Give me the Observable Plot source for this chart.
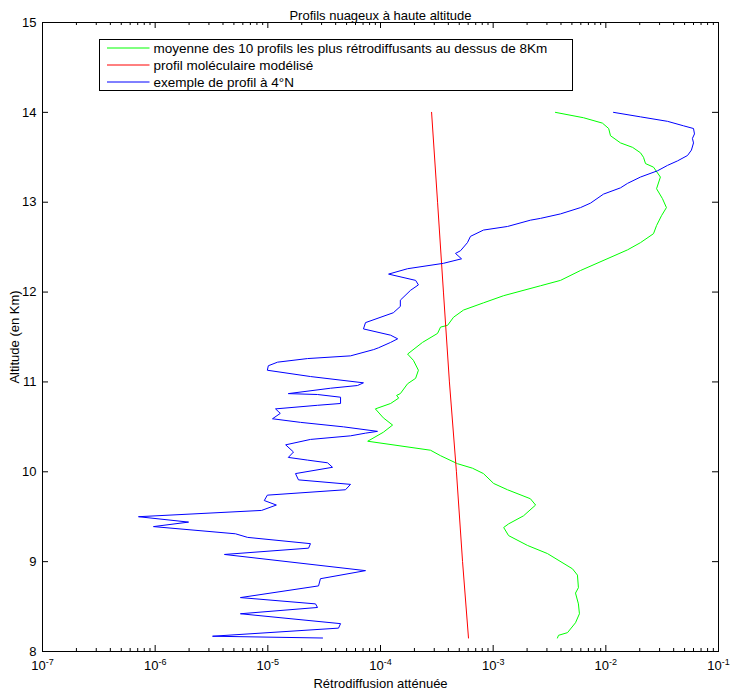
<!DOCTYPE html>
<html>
<head>
<meta charset="utf-8">
<script src="https://cdn.jsdelivr.net/npm/d3@7"></script>
<script src="https://cdn.jsdelivr.net/npm/@observablehq/plot@0.6"></script>
<style>
  html, body { margin: 0; padding: 0; background: #fff; }
  svg { display: block; }
</style>
</head>
<body>
<div id="chart"></div>
<script>
// ---------- texts ----------
const title = "Profils nuageux à haute altitude";
const xLabel = "Rétrodiffusion atténuée";
const yLabel = "Altitude (en Km)";
const seriesNames = [
  "moyenne des 10 profils les plus rétrodiffusants au dessus de 8Km",
  "profil moléculaire modélisé",
  "exemple de profil à 4°N"
];
const seriesColors = ["#00ff00", "#ff0000", "#0000ff"];

// ---------- ticks ----------
const xTicks = [1e-7, 1e-6, 1e-5, 1e-4, 1e-3, 1e-2, 1e-1];
const yTicks = [8, 9, 10, 11, 12, 13, 14, 15];

// ---------- green : mean of the 10 most backscattering profiles ----------
const greenAlt = [14.0, 13.94, 13.88, 13.82, 13.74, 13.66, 13.61, 13.55, 13.50, 13.43,
  13.39, 13.28, 13.15, 13.04, 12.94, 12.85, 12.74, 12.65, 12.55, 12.47,
  12.24, 12.13, 12.07, 11.96, 11.88, 11.80, 11.72, 11.63, 11.61, 11.54,
  11.44, 11.31, 11.24, 11.13, 11.04, 10.98, 10.87, 10.85, 10.82, 10.76,
  10.70, 10.60, 10.52, 10.44, 10.34, 10.24, 10.18, 10.09, 10.04, 9.98,
  9.87, 9.80, 9.70, 9.63, 9.51, 9.42, 9.38, 9.29, 9.18, 9.09,
  8.92, 8.85, 8.71, 8.65, 8.53, 8.42, 8.32, 8.21, 8.18, 8.15];
const greenVal = [3.57e-3, 6.34e-3, 9.33e-3, 1.06e-2, 1.10e-2, 1.35e-2, 1.73e-2, 2.03e-2, 2.16e-2, 2.25e-2,
  2.65e-2, 3.05e-2, 2.82e-2, 3.18e-2, 3.45e-2, 3.12e-2, 2.82e-2, 2.65e-2, 2.03e-2, 1.56e-2,
  5.96e-3, 3.96e-3, 2.63e-3, 1.24e-3, 8.2e-4, 5.46e-4, 4.45e-4, 3.94e-4, 3.41e-4, 3.21e-4,
  2.36e-4, 1.74e-4, 1.96e-4, 2.17e-4, 2.05e-4, 1.74e-4, 1.50e-4, 1.39e-4, 1.45e-4, 1.23e-4,
  9.0e-5, 1.06e-4, 1.28e-4, 1.06e-4, 7.7e-5, 2.78e-4, 3.40e-4, 4.82e-4, 6.55e-4, 8.2e-4,
  1.01e-3, 1.34e-3, 2.14e-3, 2.38e-3, 1.86e-3, 1.37e-3, 1.24e-3, 1.37e-3, 2.02e-3, 3.03e-3,
  5.06e-3, 5.60e-3, 5.71e-3, 5.38e-3, 5.71e-3, 5.83e-3, 5.38e-3, 4.57e-3, 3.80e-3, 3.72e-3];

// ---------- red : modelled molecular profile ----------
const redAlt = [14.0, 13.0, 12.0, 11.0, 10.0, 9.0, 8.15];
const redVal = [2.84e-4, 3.21e-4, 3.62e-4, 4.09e-4, 4.72e-4, 5.35e-4, 6.04e-4];

// ---------- blue : example profile at 4°N ----------
const blueAlt = [14.0, 13.95, 13.90, 13.85, 13.82, 13.76, 13.71, 13.66, 13.58, 13.52,
  13.46, 13.41, 13.35, 13.28, 13.21, 13.16, 13.09, 12.99, 12.94, 12.87,
  12.82, 12.80, 12.73, 12.69, 12.62, 12.55, 12.46, 12.43, 12.37, 12.32,
  12.26, 12.20, 12.13, 12.08, 12.02, 11.91, 11.84, 11.77, 11.66, 11.59,
  11.52, 11.48, 11.44, 11.38, 11.36, 11.29, 11.26, 11.22, 11.18, 11.13,
  11.06, 10.99, 10.96, 10.93, 10.87, 10.86, 10.83, 10.76, 10.74, 10.70,
  10.65, 10.59, 10.55, 10.50, 10.45, 10.43, 10.40, 10.36, 10.30, 10.22,
  10.16, 10.13, 10.10, 10.05, 9.98, 9.91, 9.86, 9.80, 9.74, 9.68,
  9.63, 9.57, 9.50, 9.44, 9.39, 9.31, 9.27, 9.20, 9.15, 9.08,
  8.90, 8.81, 8.73, 8.60, 8.53, 8.49, 8.42, 8.31, 8.26, 8.17, 8.15];
const blueVal = [1.17e-2, 2.03e-2, 3.53e-2, 4.90e-2, 6.00e-2, 6.12e-2, 5.87e-2, 6.00e-2, 5.75e-2, 5.31e-2,
  4.33e-2, 3.53e-2, 2.88e-2, 2.03e-2, 1.56e-2, 1.35e-2, 9.53e-3, 7.31e-3, 5.96e-3, 3.96e-3,
  2.63e-3, 2.14e-3, 1.34e-3, 8.2e-4, 6.29e-4, 5.91e-4, 5.13e-4, 4.63e-4, 5.24e-4, 3.62e-4,
  1.74e-4, 1.18e-4, 2.05e-4, 2.17e-4, 1.85e-4, 1.50e-4, 1.50e-4, 1.30e-4, 7.36e-5, 7.06e-5,
  1.23e-4, 1.42e-4, 1.23e-4, 9.6e-5, 8.7e-5, 5.42e-5, 2.25e-5, 1.22e-5, 1.01e-5, 9.9e-6,
  2.39e-5, 7.06e-5, 6.25e-5, 3.60e-5, 1.52e-5, 2.76e-5, 4.42e-5, 4.42e-5, 2.76e-5, 1.17e-5,
  1.29e-5, 1.10e-5, 1.95e-5, 4.70e-5, 9.4e-5, 7.36e-5, 5.42e-5, 2.39e-5, 1.44e-5, 1.69e-5,
  1.52e-5, 2.25e-5, 3.39e-5, 3.75e-5, 1.76e-5, 1.87e-5, 5.42e-5, 4.89e-5, 9.9e-6, 9.3e-6,
  1.19e-5, 8.8e-6, 7.11e-7, 1.98e-6, 9.66e-7, 5.16e-6, 6.61e-6, 2.39e-5, 2.30e-5, 4.12e-6,
  7.36e-5, 2.93e-5, 2.82e-5, 5.71e-6, 2.65e-5, 2.76e-5, 5.71e-6, 4.42e-5, 4.24e-5, 3.23e-6, 3.06e-5];

// ---------- build rows ----------
const toRows = (name, alts, vals) => alts.map((a, i) => ({series: name, alt: a, value: vals[i]}));
const greenRows = toRows(seriesNames[0], greenAlt, greenVal);
const redRows = toRows(seriesNames[1], redAlt, redVal);
const blueRows = toRows(seriesNames[2], blueAlt, blueVal);

// ---------- layout ----------
const W = 732, H = 690;
const mL = 42, mR = 14, mT = 22, mB = 39;
const innerW = W - mL - mR;
const innerH = H - mT - mB;
const font = "'Liberation Sans', Arial, Helvetica, sans-serif";

// minor log ticks (2..9 × each decade)
const minorX = [];
for (let e = -7; e < -1; e++) for (let m = 2; m <= 9; m++) minorX.push(m * Math.pow(10, e));

function legendMark() {
  const g = d3.create("svg:g").attr("font-family", font).attr("font-size", 13.5)
    .attr("text-anchor", "start");
  const x0 = mL + 57.5, y0 = mT + 17.5;
  g.append("rect").attr("x", x0).attr("y", y0).attr("width", 473).attr("height", 51)
    .attr("fill", "#fff").attr("stroke", "#000");
  seriesNames.forEach((name, i) => {
    const y = y0 + 8.5 + i * 17;
    g.append("line").attr("x1", x0 + 7.5).attr("x2", x0 + 50).attr("y1", y).attr("y2", y)
      .attr("stroke", seriesColors[i]).attr("stroke-width", 1);
    g.append("text").attr("x", x0 + 54).attr("y", y).attr("dy", "0.35em")
      .attr("text-anchor", "start").attr("fill", "#000").text(name);
  });
  return g.node();
}

const chart = Plot.plot({
  width: W, height: H,
  marginLeft: mL, marginRight: mR, marginTop: mT, marginBottom: mB,
  style: {fontFamily: font, fontSize: "13px", color: "#000", background: "#fff"},
  x: {type: "log", domain: [1e-7, 1e-1]},
  y: {domain: [8, 15]},
  marks: [
    Plot.line(greenRows, {x: "value", y: "alt", stroke: seriesColors[0], strokeWidth: 1}),
    Plot.line(redRows, {x: "value", y: "alt", stroke: seriesColors[1], strokeWidth: 1}),
    Plot.line(blueRows, {x: "value", y: "alt", stroke: seriesColors[2], strokeWidth: 1}),
    // inward ticks (MATLAB style box)
    Plot.ruleX(xTicks, {insetTop: innerH - 6, stroke: "#000"}),
    Plot.ruleX(xTicks, {insetBottom: innerH - 6, stroke: "#000"}),
    Plot.ruleX(minorX, {insetTop: innerH - 3, stroke: "#000"}),
    Plot.ruleX(minorX, {insetBottom: innerH - 3, stroke: "#000"}),
    Plot.ruleY(yTicks, {insetRight: innerW - 6, stroke: "#000"}),
    Plot.ruleY(yTicks, {insetLeft: innerW - 6, stroke: "#000"}),
    Plot.frame({stroke: "#000"}),
    Plot.axisX(xTicks, {
      tickSize: 0, tickPadding: 9,
      tickFormat: d => "10^" + Math.round(Math.log10(d)),
      label: xLabel, labelAnchor: "center", labelArrow: "none", labelOffset: 36
    }),
    Plot.axisY(yTicks, {
      tickSize: 0, tickPadding: 6, tickFormat: d => String(d),
      label: yLabel, labelAnchor: "center", labelArrow: "none", labelOffset: 33
    }),
    Plot.text([title], {frameAnchor: "top", dy: -12, fontSize: 13, fill: "#000"}),
    legendMark
  ]
});

// superscript exponents on x tick labels
d3.select(chart).selectAll('g[aria-label="x-axis tick label"] text').each(function () {
  const s = this.textContent;
  if (!s.includes("^")) return;
  const [base, exp] = s.split("^");
  const t = d3.select(this);
  t.text(base);
  t.append("tspan").attr("dy", "-0.55em").attr("font-size", "9px").text(exp);
});

document.getElementById("chart").appendChild(chart);
</script>
</body>
</html>
